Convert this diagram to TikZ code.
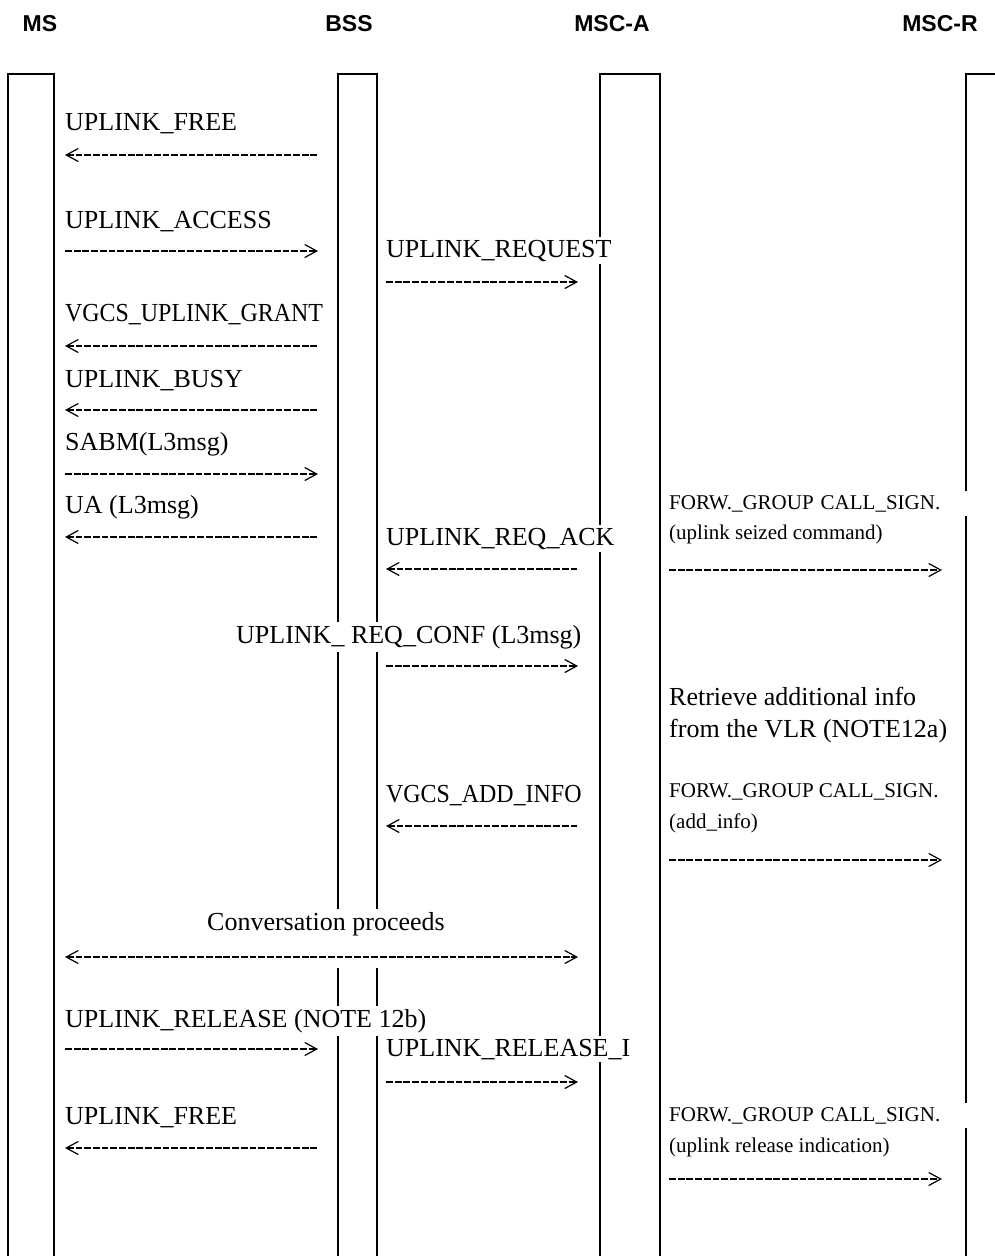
\documentclass[tikz,border=0pt]{standalone}
\usepackage{fontspec}
\setmainfont{Liberation Serif}
\newfontfamily\headfont{Liberation Sans}
\usepackage{graphicx}
\usepackage{tikz}
\usetikzlibrary{arrows.meta, positioning, calc}

\begin{document}
\begin{tikzpicture}[
    x=1pt, y=-1pt, % one unit per pixel, y going down
    head/.style={font=\headfont\bfseries\fontsize{23}{27}\selectfont, inner sep=0pt},
    lbl/.style={
        anchor=base west,
        fill=white,
        inner xsep=0pt,
        inner ysep=3pt,
        font=\fontsize{26}{30}\selectfont
    },
    small/.style={lbl, inner ysep=4pt, font=\fontsize{21}{25}\selectfont},
    wide/.style={text width=305pt, align=left},
    life/.style={line width=2pt},
    line/.style={line width=1.4pt, dash pattern=on 6.8pt off 1.9pt,
        >={Straight Barb[length=12pt,width=13pt,line width=1.2pt]}}
]
    \useasboundingbox (0,0) rectangle (995,1256);

    % entity names
    \node[head] (ms) at (40,24) {MS};
    \node[head] (bss) at (349,24) {BSS};
    \node[head] (msca) at (612,24) {MSC-A};
    \node[head] (mscr) at (940,24) {MSC-R};

    % lifelines
    \draw[life] (8,1256) |- (54,74) -- (54,1256);
    \draw[life] (338,1256) |- (377,74) -- (377,1256);
    \draw[life] (600,1256) |- (660,74) -- (660,1256);
    \draw[life] (966,1256) |- (995,74);

    % arrow ends
    \coordinate (msOut) at (65,0);
    \coordinate (bssIn) at (318,0);
    \coordinate (bssOut) at (386,0);
    \coordinate (mscaIn) at (578,0);
    \coordinate (mscaOut) at (669,0);
    \coordinate (mscrIn) at (942,0);

    % MS <-> BSS
    \node[lbl] (free) at (65,130) {UPLINK\_FREE};
    \draw[line, <-] (msOut |- 0,155) -- (bssIn |- 0,155);

    \node[lbl] (access) at (65,228) {UPLINK\_ACCESS};
    \draw[line, ->] (msOut |- 0,251) -- (bssIn |- 0,251);

    \node[lbl] (grant) at (65,321) {\scalebox{0.92}[1]{VGCS\_UPLINK\_GRANT}};
    \draw[line, <-] (msOut |- 0,346) -- (bssIn |- 0,346);

    \node[lbl] (busy) at (65,387) {UPLINK\_BUSY};
    \draw[line, <-] (msOut |- 0,410) -- (bssIn |- 0,410);

    \node[lbl] (sabm) at (65,450) {SABM(L3msg)};
    \draw[line, ->] (msOut |- 0,474) -- (bssIn |- 0,474);

    \node[lbl] (ua) at (65,513) {UA (L3msg)};
    \draw[line, <-] (msOut |- 0,537) -- (bssIn |- 0,537);

    % BSS <-> MSC-A
    \node[lbl] (req) at (386,257) {UPLINK\_REQUEST};
    \draw[line, ->] (bssOut |- 0,282) -- (mscaIn |- 0,282);

    \node[lbl] (reqack) at (386,545) {UPLINK\_REQ\_ACK};
    \draw[line, <-] (bssOut |- 0,569) -- (mscaIn |- 0,569);

    \node[lbl] (reqconf) at (236,643) {UPLINK\_ REQ\_CONF (L3msg)};
    \draw[line, ->] (bssOut |- 0,666) -- (mscaIn |- 0,666);

    \node[lbl] (addinfo) at (386,802) {\scalebox{0.92}[1]{VGCS\_ADD\_INFO}};
    \draw[line, <-] (bssOut |- 0,826) -- (mscaIn |- 0,826);

    % MSC-A -> MSC-R
    \node[small, wide] (fwd1) at (669,509) {FORW.\_GROUP CALL\_SIGN.};
    \node[small] (seized) at (669,539) {(uplink seized command)};
    \draw[line, ->] (mscaOut |- 0,570) -- (mscrIn |- 0,570);

    \node[lbl] (vlr1) at (669,705) {Retrieve additional info};
    \node[lbl] (vlr2) at (669,737) {from the VLR (NOTE12a)};

    \node[small] (fwd2) at (669,797) {FORW.\_GROUP CALL\_SIGN.};
    \node[small] (info) at (669,828) {(add\_info)};
    \draw[line, ->] (mscaOut |- 0,860) -- (mscrIn |- 0,860);

    % conversation
    \node[lbl, text depth=35pt] (conv) at (207,930) {Conversation proceeds};
    \draw[line, <->] (msOut |- 0,957) -- (mscaIn |- 0,957);

    % release
    \node[lbl] (rel) at (65,1027) {UPLINK\_RELEASE (NOTE 12b)};
    \draw[line, ->] (msOut |- 0,1049) -- (bssIn |- 0,1049);

    \node[lbl] (reli) at (386,1056) {UPLINK\_RELEASE\_I};
    \draw[line, ->] (bssOut |- 0,1082) -- (mscaIn |- 0,1082);

    \node[lbl] (free2) at (65,1124) {UPLINK\_FREE};
    \draw[line, <-] (msOut |- 0,1148) -- (bssIn |- 0,1148);

    \node[small, wide] (fwd3) at (669,1121) {FORW.\_GROUP CALL\_SIGN.};
    \node[small] (relind) at (669,1152) {(uplink release indication)};
    \draw[line, ->] (mscaOut |- 0,1179) -- (mscrIn |- 0,1179);

\end{tikzpicture}
\end{document}
